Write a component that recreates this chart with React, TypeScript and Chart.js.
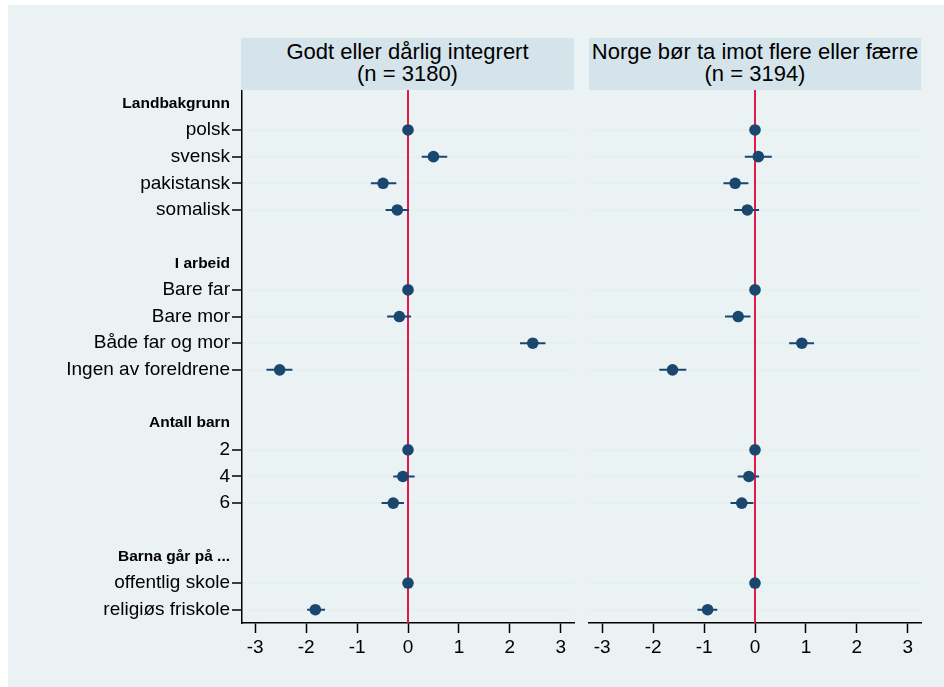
import React, { useEffect, useRef } from 'react';
import { Chart, registerables } from 'chart.js';

Chart.register(...registerables);

const FONT = "'Liberation Sans', Arial, Helvetica, sans-serif";
const NAVY = '#1A476F';
const RED = '#E21A4B';
const GRID = '#E6EFF2';
const BG = '#EAF2F3';
const HEADER_BG = '#D5E3EA';

// ---- data ----
const groups = ['Landbakgrunn', 'I arbeid', 'Antall barn', 'Barna går på ...'];
const categories = [
  'polsk', 'svensk', 'pakistansk', 'somalisk',
  'Bare far', 'Bare mor', 'Både far og mor', 'Ingen av foreldrene',
  '2', '4', '6',
  'offentlig skole', 'religiøs friskole',
];
const categoryGroup = [0, 0, 0, 0, 1, 1, 1, 1, 2, 2, 2, 3, 3];

const panelTitles = [
  ['Godt eller dårlig integrert', '(n = 3180)'],
  ['Norge bør ta imot flere eller færre', '(n = 3194)'],
];

const coefIntegrert = [0, 0.5, -0.49, -0.21, 0, -0.17, 2.45, -2.52, 0, -0.1, -0.29, 0, -1.82];
const loIntegrert = [null, 0.27, -0.73, -0.44, null, -0.41, 2.2, -2.78, null, -0.29, -0.52, null, -1.98];
const hiIntegrert = [null, 0.77, -0.23, 0.02, null, 0.06, 2.7, -2.27, null, 0.13, -0.08, null, -1.63];

const coefFlere = [0, 0.065, -0.39, -0.15, 0, -0.33, 0.92, -1.62, 0, -0.12, -0.26, 0, -0.93];
const loFlere = [null, -0.2, -0.62, -0.41, null, -0.59, 0.67, -1.88, null, -0.34, -0.48, null, -1.13];
const hiFlere = [null, 0.33, -0.13, 0.08, null, -0.09, 1.16, -1.35, null, 0.08, -0.03, null, -0.74];

const xTicks = [-3, -2, -1, 0, 1, 2, 3];
const xMin = -3.26;
const xMax = 3.26;

// ---- rows (header, categories, blank between groups) ----
type Kind = 'header' | 'cat' | 'blank';
const rowLabels: string[] = [];
const rowKinds: Kind[] = [];
const catRow: number[] = [];
groups.forEach((g, gi) => {
  if (gi > 0) {
    rowLabels.push('');
    rowKinds.push('blank');
  }
  rowLabels.push(g);
  rowKinds.push('header');
  categories.forEach((c, ci) => {
    if (categoryGroup[ci] === gi) {
      catRow[ci] = rowLabels.length;
      rowLabels.push(c);
      rowKinds.push('cat');
    }
  });
});

function makeConfig(coef: number[], lo: (number | null)[], hi: (number | null)[], showY: boolean, yWidth: number, padRight: number): any {
  const points = coef.map((v, i) => ({ x: v, y: catRow[i] }));
  const ci: any[] = [];
  lo.forEach((l, i) => {
    if (l === null || hi[i] === null) return;
    ci.push({ x: l, y: catRow[i] });
    ci.push({ x: hi[i], y: catRow[i] });
    ci.push({ x: null, y: null });
  });
  return {
    type: 'scatter',
    data: {
      datasets: [
        {
          type: 'scatter',
          data: points,
          pointRadius: 5.8,
          pointBackgroundColor: NAVY,
          pointBorderWidth: 0,
          pointHoverRadius: 5.8,
        },
        {
          type: 'line',
          data: ci,
          borderColor: NAVY,
          borderWidth: 2,
          pointRadius: 0,
          spanGaps: false,
          fill: false,
        },
        {
          type: 'line',
          data: [
            { x: 0, y: -0.5 },
            { x: 0, y: rowLabels.length - 0.5 },
          ],
          borderColor: RED,
          borderWidth: 2,
          pointRadius: 0,
          fill: false,
        },
      ],
    },
    options: {
      responsive: false,
      animation: false,
      events: [],
      layout: { autoPadding: false, padding: { top: 0, left: 0, right: padRight, bottom: 0 } },
      plugins: { legend: { display: false }, tooltip: { enabled: false }, title: { display: false } },
      scales: {
        x: {
          type: 'linear',
          min: xMin,
          max: xMax,
          afterBuildTicks: (axis: any) => {
            axis.ticks = xTicks.map((v) => ({ value: v }));
          },
          afterFit: (axis: any) => {
            axis.height = 64;
            axis.paddingLeft = 0;
            axis.paddingRight = 0;
          },
          border: { display: true, color: '#000', width: 1.5 },
          grid: { drawOnChartArea: false, drawTicks: true, tickLength: 10, tickColor: '#000', tickWidth: 1.5 },
          ticks: {
            color: '#000',
            font: { family: FONT, size: 19 },
            padding: 3,
            maxRotation: 0,
            autoSkip: false,
            callback: (v: any) => String(v),
          },
        },
        y: {
          type: 'linear',
          min: -0.5,
          max: rowLabels.length - 0.5,
          reverse: true,
          afterBuildTicks: (axis: any) => {
            axis.ticks = rowLabels.map((_, i) => ({ value: i }));
          },
          afterFit: (axis: any) => {
            axis.width = yWidth;
            axis.paddingTop = 0;
            axis.paddingBottom = 0;
          },
          border: { display: showY, color: '#000', width: 1.5 },
          grid: {
            color: (ctx: any) => (ctx.tick && rowKinds[ctx.tick.value] === 'cat' ? GRID : 'rgba(0,0,0,0)'),
            lineWidth: 2,
            drawTicks: showY,
            tickLength: 10,
            tickWidth: 1.5,
            tickColor: (ctx: any) => (ctx.tick && rowKinds[ctx.tick.value] === 'cat' ? '#000' : 'rgba(0,0,0,0)'),
          },
          ticks: {
            display: showY,
            autoSkip: false,
            padding: 2,
            color: '#000',
            font: (ctx: any) =>
              ctx.tick && rowKinds[ctx.tick.value] === 'header'
                ? { family: FONT, size: 15.5, weight: 'bold' }
                : { family: FONT, size: 19 },
            callback: (v: any) => rowLabels[v] ?? '',
          },
        },
      },
    },
  };
}

function Panel({ config, left, width }: { config: any; left: number; width: number }) {
  const ref = useRef<HTMLCanvasElement | null>(null);
  useEffect(() => {
    if (!ref.current) return;
    const chart = new Chart(ref.current, config);
    return () => chart.destroy();
  }, [config]);
  return (
    <canvas
      ref={ref}
      width={width}
      height={597}
      style={{ position: 'absolute', left, top: 85, width, height: 597, display: 'block' }}
    />
  );
}

const config1 = makeConfig(coefIntegrert, loIntegrert, hiIntegrert, true, 234, 10);
const config2 = makeConfig(coefFlere, loFlere, hiFlere, false, 5, 23);

function Header({ left, width, lines }: { left: number; width: number; lines: string[] }) {
  return (
    <div
      style={{
        position: 'absolute',
        left,
        top: 33,
        width,
        height: 52,
        background: HEADER_BG,
        fontFamily: FONT,
        fontSize: 22,
        lineHeight: '22px',
        textAlign: 'center',
        color: '#000',
        paddingTop: 3,
        boxSizing: 'border-box',
        whiteSpace: 'nowrap',
        overflow: 'hidden',
      }}
    >
      <div>{lines[0]}</div>
      <div>{lines[1]}</div>
    </div>
  );
}

export default function App() {
  return (
    <div
      style={{
        position: 'absolute',
        left: 8,
        top: 5,
        width: 936,
        height: 682,
        background: BG,
        overflow: 'hidden',
      }}
    >
      <Header left={233} width={333} lines={panelTitles[0]} />
      <Header left={581} width={332} lines={panelTitles[1]} />
      <Panel config={config1} left={0} width={576} />
      <Panel config={config2} left={576} width={360} />
    </div>
  );
}
